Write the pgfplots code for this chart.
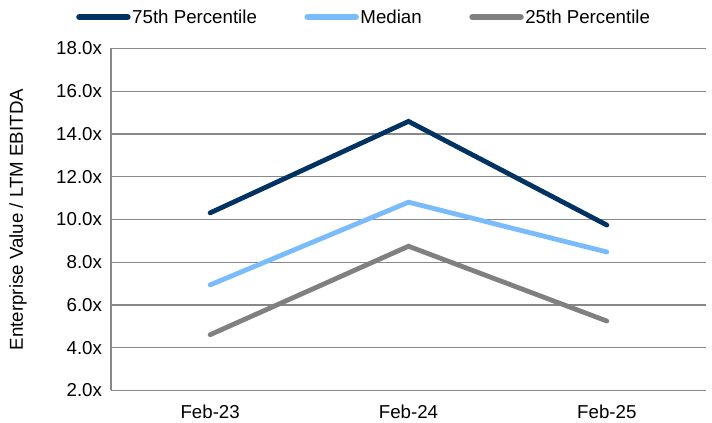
\documentclass[border=0pt]{standalone}
\usepackage{pgfplots}
\pgfplotsset{compat=1.18}
\usepackage{fontspec}
\setmainfont{Liberation Sans}
\definecolor{cnavy}{RGB}{0,50,98}
\definecolor{clight}{RGB}{122,187,252}
\definecolor{cgray}{RGB}{128,128,128}
\definecolor{cgrid}{RGB}{136,136,136}
\begin{document}
\begin{tikzpicture}[font=\fontsize{18.7bp}{22bp}\selectfont]
\useasboundingbox (0,0) rectangle (712bp,423bp);
\begin{axis}[
  at={(111bp,32.5bp)}, anchor=south west,
  scale only axis, width=595bp, height=342bp,
  xmin=-0.5, xmax=2.5, ymin=2, ymax=18,
  ytick={2,4,6,8,10,12,14,16,18},
  xtick={0,1,2}, xticklabels={Feb-23,Feb-24,Feb-25},
  axis x line*=bottom, axis y line*=left,
  axis line style={-, draw=cgrid, line width=1.3bp},
  ymajorgrids, grid style={draw=cgrid, line width=1.3bp},
  major tick length=0pt, tick style={draw=none},
  /pgf/number format/assume math mode=true,
  yticklabel={\pgfmathprintnumber[fixed,fixed zerofill,precision=1]{\tick}x},
  yticklabel style={xshift=-5.5bp},
  xticklabel style={yshift=-11bp},
  ylabel={Enterprise Value / LTM EBITDA},
  ylabel style={at={(axis description cs:-0.1563,0.5)}, anchor=center},
  legend columns=3,
  legend style={at={(rel axis cs:0.425,1.092)}, anchor=center, draw=none, fill=none,
    /tikz/every even column/.append style={column sep=46bp},
    nodes={inner sep=1.5bp}},
  legend image code/.code={\draw[#1, line width=6.5bp, line cap=round] (0bp,0bp) -- (48bp,0bp);},
  every axis plot/.append style={line width=4.8bp, line cap=round, line join=miter},
  clip=false,
]
\addplot[cnavy] coordinates {(0,10.31) (1,14.59) (2,9.74)};
\addlegendentry{75th Percentile}
\addplot[clight] coordinates {(0,6.94) (1,10.81) (2,8.48)};
\addlegendentry{Median}
\addplot[cgray] coordinates {(0,4.61) (1,8.75) (2,5.25)};
\addlegendentry{25th Percentile}
\end{axis}
\end{tikzpicture}
\end{document}
